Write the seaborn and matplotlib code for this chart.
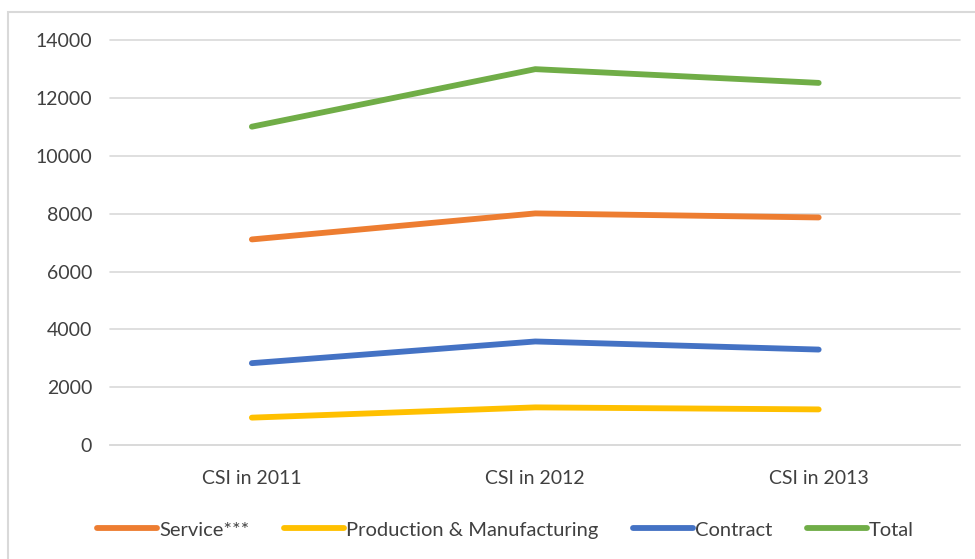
import pandas as pd
import matplotlib.pyplot as plt
import seaborn as sns
from matplotlib.patches import Rectangle

plt.switch_backend('Agg')

# data
years = ['CSI in 2011', 'CSI in 2012', 'CSI in 2013']
service = [7110, 8010, 7870]
production = [945, 1300, 1230]
contract = [2830, 3580, 3300]
total = [11010, 13000, 12525]
series_names = ['Service***', 'Production & Manufacturing', 'Contract', 'Total']
colors = ['#ED7D31', '#FFC000', '#4472C4', '#70AD47']

rows = []
for name, vals in zip(series_names, [service, production, contract, total]):
    for yr, v in zip(years, vals):
        rows.append({'year': yr, 'value': v, 'series': name})
df = pd.DataFrame(rows)

sns.set_style('white')
plt.rcParams['font.family'] = ['Lato', 'DejaVu Sans']

fig = plt.figure(figsize=(9.75, 5.59), dpi=100)
ax = fig.add_axes([0.113, 0.204, 0.872, 0.724])

sns.lineplot(data=df, x='year', y='value', hue='series', hue_order=series_names,
             palette=colors, linewidth=4.2, sort=False, ax=ax,
             solid_capstyle='round')

ax.set_ylim(0, 14000)
ax.set_yticks(range(0, 14001, 2000))
ax.set_xlim(-0.5, 2.5)
ax.grid(axis='y', color='#D9D9D9', linewidth=1.2)
for gl in ax.get_ygridlines():
    gl.set_clip_on(False)
ax.set_axisbelow(True)
for s in ['top', 'right', 'left']:
    ax.spines[s].set_visible(False)
ax.spines['bottom'].set_color('#D9D9D9')
ax.spines['bottom'].set_linewidth(1.2)
ax.tick_params(axis='both', length=0, labelsize=14, colors='#404040')
ax.tick_params(axis='y', pad=13)
ax.tick_params(axis='x', pad=18)
ax.set_xlabel('')
ax.set_ylabel('')

ax.legend(loc='center', bbox_to_anchor=(0.465, -0.21), ncol=4, frameon=False,
          fontsize=14.5, handlelength=3.0, handletextpad=0.1, columnspacing=1.7,
          labelcolor='#404040')

# light chart border
fig.patches.append(Rectangle((0.008, -0.01), 1.0, 0.989, transform=fig.transFigure,
                             fill=False, edgecolor='#D9D9D9', linewidth=1.5))

plt.savefig('out.png', dpi=100)
plt.close()
